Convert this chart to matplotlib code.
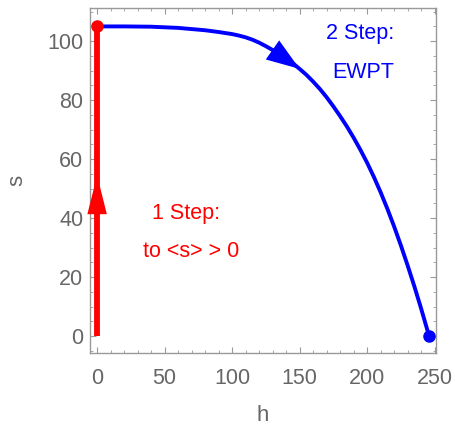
import matplotlib
matplotlib.use("Agg")
import matplotlib.pyplot as plt
from matplotlib.ticker import MultipleLocator

plt.rcParams['font.family'] = ['Liberation Sans', 'DejaVu Sans']

# step 1: h stays at 0, s goes up
h_step1 = [0, 0]
s_step1 = [0, 105]

# step 2: EWPT path
h_ewpt = [0, 20, 40, 60, 80, 90, 100, 105, 110, 115, 120, 125, 130, 135, 140, 145,
          150, 155, 160, 165, 170, 175, 180, 185, 190, 195, 200, 205, 210, 215,
          220, 225, 230, 235, 240, 245, 246]
s_ewpt = [105, 105, 104.9, 104.5, 103.7, 103.1, 102.4, 101.9, 101.3, 100.5, 99.5, 98.3, 97, 95.7, 94.2, 92.5,
          90.6, 88.6, 86.3, 83.8, 81, 77.9, 74.6, 71.1, 67.3, 63.2, 58.8, 54.0, 48.8, 43.2,
          37.2, 30.8, 24.0, 16.9, 9.4, 1.5, 0]

x_ticks = [0, 50, 100, 150, 200, 250]
y_ticks = [0, 20, 40, 60, 80, 100]

gray = '#666666'
red = '#ff0000'
blue = '#0000ff'

fig = plt.figure(figsize=(4.55, 4.28), dpi=100)
ax = fig.add_axes([0.198, 0.175, 0.760, 0.806])

ax.plot(h_step1, s_step1, color=red, lw=4.2, solid_capstyle='butt', zorder=3)
ax.plot(h_ewpt, s_ewpt, color=blue, lw=2.8, zorder=2, solid_joinstyle='round')

ax.plot(h_step1[-1], s_step1[-1], 'o', color=red, ms=8, zorder=4)
ax.plot(h_ewpt[-1], s_ewpt[-1], 'o', color=blue, ms=8, zorder=4)

# arrow heads
ax.annotate('', xy=(0, 54.5), xytext=(0, 40),
            arrowprops=dict(arrowstyle='-|>,head_length=2.0,head_width=0.5',
                            color=red, lw=0, shrinkA=0, shrinkB=0,
                            mutation_scale=14), zorder=5)
ax.annotate('', xy=(h_ewpt[16], s_ewpt[16]), xytext=(h_ewpt[12], s_ewpt[12]),
            arrowprops=dict(arrowstyle='-|>,head_length=1.7,head_width=0.6',
                            color=blue, lw=0, shrinkA=0, shrinkB=0,
                            mutation_scale=14), zorder=5)

ax.text(195, 102.7, '2 Step:', color=blue, fontsize=15.5, ha='center', va='center')
ax.text(197, 89.5, 'EWPT', color=blue, fontsize=15.5, ha='center', va='center')
ax.text(66, 41.7, '1 Step:', color=red, fontsize=15.5, ha='center', va='center')
ax.text(70, 28.5, 'to <s> > 0', color=red, fontsize=15.5, ha='center', va='center')

ax.set_xlim(-5.2, 251)
ax.set_ylim(-5.8, 111.2)
ax.set_xticks(x_ticks)
ax.set_yticks(y_ticks)
ax.xaxis.set_minor_locator(MultipleLocator(10))
ax.yaxis.set_minor_locator(MultipleLocator(5))
ax.tick_params(which='both', direction='in', top=True, right=True, color='#999999',
               labelcolor=gray, labelsize=15.5)
ax.tick_params(which='major', length=4.5, width=0.8)
ax.tick_params(which='minor', length=2.5, width=0.6)
ax.tick_params(axis='x', pad=11)
ax.tick_params(axis='y', pad=5)
for sp in ax.spines.values():
    sp.set_color('#999999')
    sp.set_linewidth(1.0)

ax.set_xlabel('h', color=gray, fontsize=16, labelpad=11)
ax.set_ylabel('s', color=gray, fontsize=16, labelpad=14)

fig.savefig('out.png', dpi=100)
